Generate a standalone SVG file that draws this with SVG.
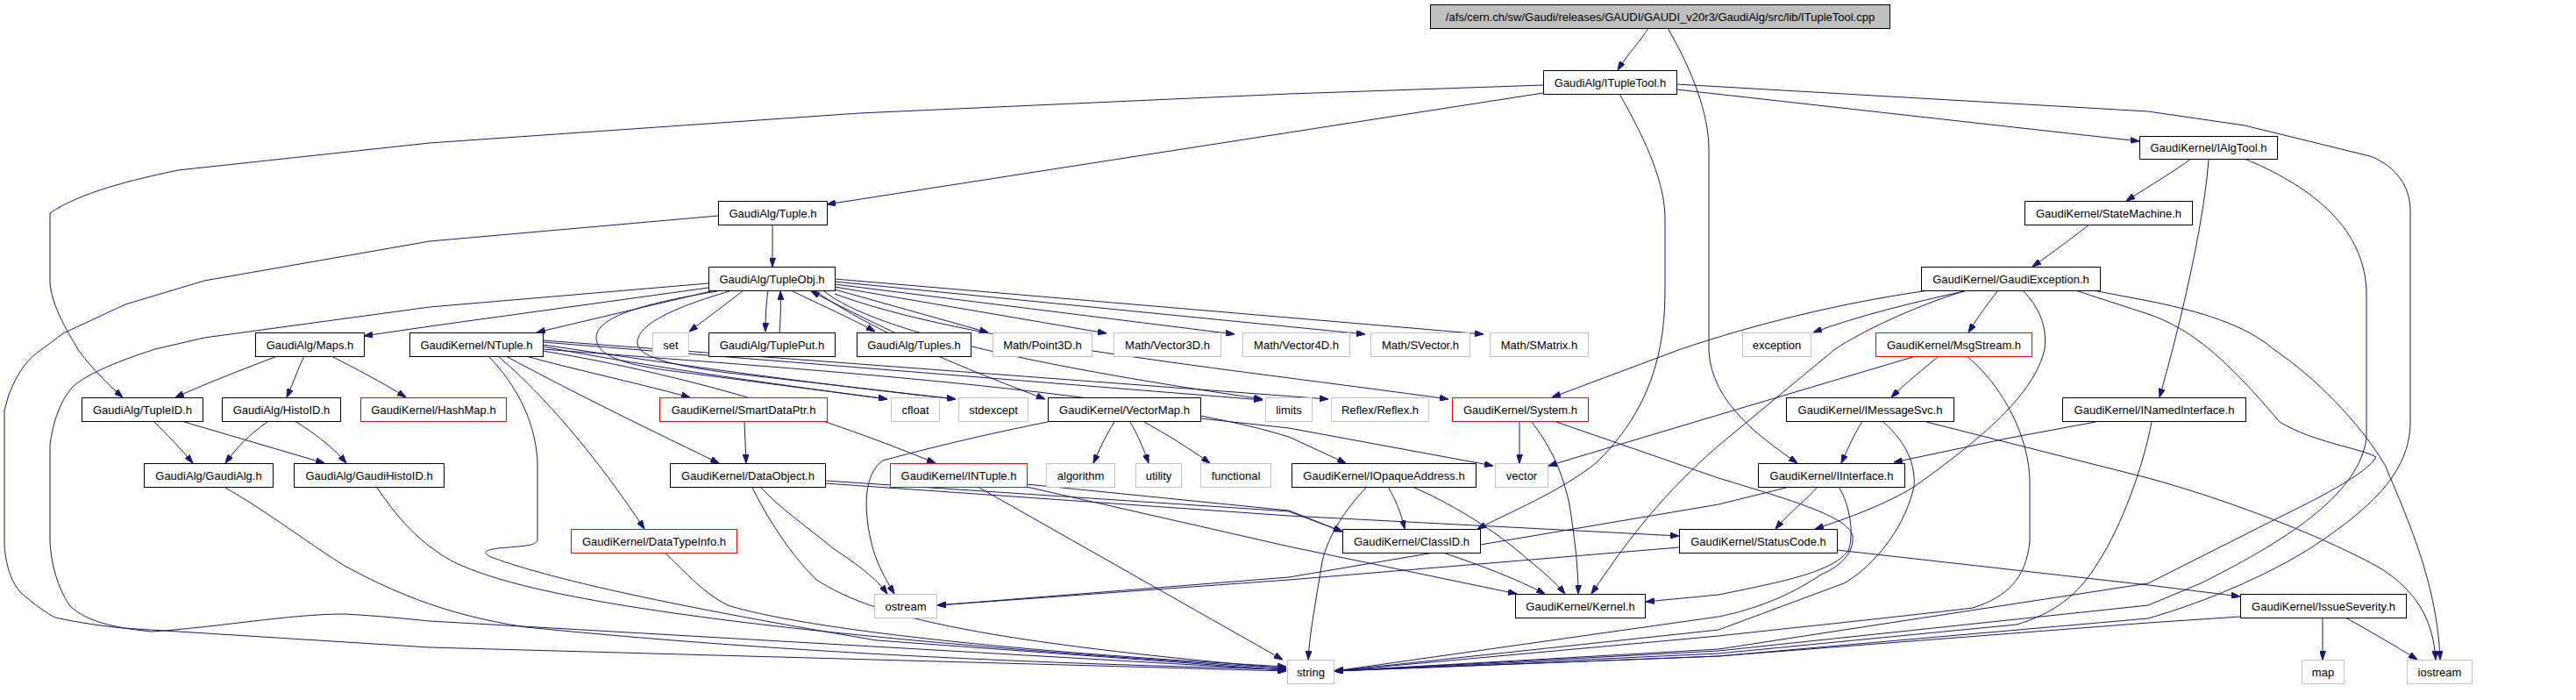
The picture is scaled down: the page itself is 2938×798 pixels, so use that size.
<svg xmlns="http://www.w3.org/2000/svg" width="2938" height="798" viewBox="0 0 2938 798">
<style>
rect{fill:#fff;stroke-width:1}
.b rect{stroke:#000}
.g rect{stroke:#bfbfbf}
.r rect{stroke:#ff0000}
.root rect{fill:#bfbfbf;stroke:#000}
text{font-family:"Liberation Sans",Arial,Helvetica,sans-serif;font-size:13px;text-anchor:middle;fill:#000}
#edges path{fill:none;stroke:#191970;stroke-width:1;marker-end:url(#a)}
</style>
<defs>
<marker id="a" viewBox="0 0 10 7" refX="10" refY="3.5" markerWidth="10" markerHeight="7" markerUnits="userSpaceOnUse" orient="auto">
<path d="M0,0 L10,3.5 L0,7 z" fill="#191970" stroke="#191970"/>
</marker>
</defs>
<rect x="0" y="0" width="2938" height="798" fill="#fff" stroke="none"/>
<g id="edges">
<path d="M1880,32 C1872,46 1856,62 1845,80"/>
<path d="M1902,32 C1930,80 1949,130 1949,170 L1949,400 C1952,460 2010,500 2050,528"/>
<path d="M1760,106 L943,233"/>
<path d="M1760,97 L1470,107 L980,129 L490,163 L203,194 C150,205 90,220 57,243 L57,323 C60,350 75,375 90,400 C105,420 125,440 140,453"/>
<path d="M1847,107 C1880,165 1899,210 1899,250 L1899,333 C1899,420 1870,480 1820,528 C1780,560 1720,585 1685,603"/>
<path d="M1912,102 L2440,161"/>
<path d="M1912,96 L2450,127 L2560,143 L2703,178 C2735,190 2749,215 2749,240 L2749,481 C2749,540 2700,580 2650,615 C2600,650 2520,685 2450,705 L1960,748 L1522,765"/>
<path d="M2499,181 C2480,195 2455,210 2425,229"/>
<path d="M2519,181 C2515,240 2495,340 2463,453"/>
<path d="M2560,181 C2630,210 2695,255 2699,330 L2699,500 C2690,560 2620,610 2510,665 L2450,690 L1960,742 L1522,765"/>
<path d="M2383,256 C2365,270 2345,285 2318,304"/>
<path d="M2245,331 C2180,345 2120,360 2068,379"/>
<path d="M2200,331 C2100,345 2000,370 1917,398 L1770,453"/>
<path d="M2279,331 C2268,345 2258,358 2245,379"/>
<path d="M2243,331 C2180,350 2120,380 2093,398 L1960,508 C1900,560 1860,610 1815,677"/>
<path d="M2307,331 C2325,350 2335,370 2332,398 C2320,450 2260,500 2183,555 C2150,575 2110,590 2070,603"/>
<path d="M2387,331 L2450,343 C2510,355 2560,370 2593,398 C2640,430 2690,480 2720,530 C2750,600 2780,670 2783,752"/>
<path d="M2367,331 L2450,358 C2500,375 2540,410 2600,481 C2640,505 2690,510 2710,521 C2700,540 2640,570 2597,591 L2450,665 L1960,740 L1522,765"/>
<path d="M2211,406 C2195,420 2175,435 2157,453"/>
<path d="M2185,406 L1960,473 L1766,531"/>
<path d="M2243,406 C2285,440 2315,500 2315,550 L2315,618 C2310,660 2290,680 2250,693 C2150,705 2050,715 1960,725 L1522,765"/>
<path d="M2124,480 C2115,495 2108,510 2100,528"/>
<path d="M2148,481 C2175,505 2185,530 2183,555 C2170,610 2130,650 2103,665 L1960,718 L1522,765"/>
<path d="M2197,481 L2450,545 C2560,575 2680,625 2723,653 C2760,680 2775,710 2778,752"/>
<path d="M2390,481 L2288,500 L2160,527"/>
<path d="M2454,481 C2445,530 2420,600 2393,641 C2370,680 2340,700 2300,712 L1960,745 L1522,765"/>
<path d="M2073,555 C2060,570 2040,585 2025,603"/>
<path d="M2097,555 C2110,575 2115,610 2108,628 C2090,650 2050,660 1960,678 L1877,686"/>
<path d="M2037,556 L1960,575 L1470,658 L1069,690"/>
<path d="M1915,624 L1470,661 L1069,690"/>
<path d="M2095,627 L2450,667 L2555,680"/>
<path d="M2649,704 L2649,752"/>
<path d="M2675,704 C2700,718 2730,735 2757,752"/>
<path d="M2555,703 L2450,710 L1960,748 L1522,765"/>
<path d="M1646,630 C1690,645 1730,660 1762,677"/>
<path d="M1583,555 C1592,570 1598,585 1602,603"/>
<path d="M1611,555 C1650,572 1700,600 1743,638 C1760,652 1775,665 1785,677"/>
<path d="M1558,556 C1535,580 1515,610 1508,640 C1500,690 1494,720 1492,752"/>
<path d="M1733,481 L1733,528"/>
<path d="M1747,481 C1765,505 1780,530 1790,575 C1797,620 1800,650 1800,677"/>
<path d="M1775,481 L1960,545 C2060,575 2105,590 2113,610 C2115,630 2100,645 2077,655 C2040,680 2000,695 1960,703 L1522,765"/>
<path d="M1271,481 C1262,495 1255,510 1247,528"/>
<path d="M1289,481 C1297,495 1304,510 1310,528"/>
<path d="M1305,481 C1330,495 1355,510 1380,528"/>
<path d="M1195,481 C1150,490 1080,505 1007,525 C985,540 985,580 993,615 C998,640 1010,660 1020,677"/>
<path d="M1369,477 L1470,488 L1703,531"/>
<path d="M1117,556 L1463,752"/>
<path d="M1171,555 L1470,623 L1730,677"/>
<path d="M1171,552 L1470,582 L1531,606"/>
<path d="M941,548 L1470,583 L1531,606"/>
<path d="M941,551 L1470,588 L1915,611"/>
<path d="M868,556 C890,580 920,600 950,625 C980,645 1000,660 1012,677"/>
<path d="M858,556 C875,590 900,630 930,660 C990,700 1100,730 1467,762"/>
<path d="M849,481 L851,528"/>
<path d="M757,629 C780,650 800,675 830,690 C900,712 1100,740 1467,760"/>
<path d="M257,556 C300,580 360,625 393,645 C440,670 500,700 600,715 C900,745 1200,757 1467,763"/>
<path d="M430,556 C450,585 470,610 500,630 C560,675 800,720 1467,762"/>
<path d="M176,481 C190,495 205,510 220,528"/>
<path d="M210,481 L370,528"/>
<path d="M305,481 C285,495 270,510 257,528"/>
<path d="M338,481 C360,495 380,510 395,528"/>
<path d="M316,406 C280,420 240,435 200,453"/>
<path d="M347,406 C340,420 335,435 327,453"/>
<path d="M378,406 C405,420 435,435 463,453"/>
<path d="M881,256 L881,304"/>
<path d="M819,246 L490,275 L233,320 L143,347 L72,380 L48,398 C30,410 20,425 10,450 L5,468 L5,621 C7,650 15,665 23,675 C40,690 55,700 63,704 C90,710 120,714 140,716 L490,738 L1467,765"/>
<path d="M808,323 L490,350 L233,385 L177,398 C140,410 100,425 83,441 C70,455 60,480 57,508 L57,618 C58,640 65,670 80,691 C95,705 120,715 173,720 C250,715 330,700 393,700 C430,702 460,705 490,708 L1467,764"/>
<path d="M808,328 L490,372 L415,383"/>
<path d="M815,331 L612,379"/>
<path d="M848,331 C830,345 810,360 786,378"/>
<path d="M876,331 C874,345 873,360 873,378"/>
<path d="M889,379 C890,365 891,350 890,332"/>
<path d="M902,331 C930,345 965,360 998,378"/>
<path d="M1020,379 C990,365 960,350 925,332"/>
<path d="M952,330 L1127,379"/>
<path d="M952,327 L1262,380"/>
<path d="M952,324 L1408,381"/>
<path d="M952,321 L1557,381"/>
<path d="M952,318 L1692,381"/>
<path d="M818,332 C740,345 680,360 680,385 C680,405 710,415 760,422 L1012,455"/>
<path d="M832,332 C770,350 725,370 727,392 C730,410 780,418 830,425 L1090,455"/>
<path d="M940,332 C1000,380 1200,420 1440,455"/>
<path d="M930,332 C1000,380 1100,420 1192,455"/>
<path d="M952,335 C1100,390 1400,420 1652,455"/>
<path d="M600,406 C650,420 720,435 787,453"/>
<path d="M577,406 C640,440 720,480 820,528"/>
<path d="M568,406 C620,450 680,520 735,603"/>
<path d="M557,406 C590,440 610,480 613,525 L613,616 C610,622 600,622 580,624 C550,626 550,630 560,635 C600,650 700,680 1000,730 L1467,764"/>
<path d="M619,400 C800,430 950,480 1067,528"/>
<path d="M619,395 C750,420 900,440 1012,455"/>
<path d="M619,393 C800,420 950,440 1090,455"/>
<path d="M619,390 L1440,456"/>
<path d="M619,388 L1515,455"/>
<path d="M619,398 C900,420 1300,445 1470,498 L1535,528"/>
</g>
<g id="root" class="root"><rect x="1631.5" y="5.5" width="524" height="27"/><text x="1893.5" y="23.5">/afs/cern.ch/sw/Gaudi/releases/GAUDI/GAUDI_v20r3/GaudiAlg/src/lib/ITupleTool.cpp</text></g>
<g id="n_itupletool" class="b"><rect x="1760.5" y="80.5" width="152" height="27"/><text x="1836.5" y="98.5">GaudiAlg/ITupleTool.h</text></g>
<g id="n_ialgtool" class="b"><rect x="2440.5" y="155.5" width="157" height="26"/><text x="2519" y="173">GaudiKernel/IAlgTool.h</text></g>
<g id="n_tuple" class="b"><rect x="819.5" y="229.5" width="124" height="27"/><text x="881.5" y="247.5">GaudiAlg/Tuple.h</text></g>
<g id="n_statemachine" class="b"><rect x="2309.5" y="229.5" width="191" height="27"/><text x="2405" y="247.5">GaudiKernel/StateMachine.h</text></g>
<g id="n_tupleobj" class="b"><rect x="808.5" y="304.5" width="144" height="27"/><text x="880.5" y="322.5">GaudiAlg/TupleObj.h</text></g>
<g id="n_gaudiexception" class="b"><rect x="2191.5" y="304.5" width="204" height="27"/><text x="2293.5" y="322.5">GaudiKernel/GaudiException.h</text></g>
<g id="n_maps" class="b"><rect x="291.5" y="379.5" width="124" height="27"/><text x="353.5" y="397.5">GaudiAlg/Maps.h</text></g>
<g id="n_ntuple" class="b"><rect x="467.5" y="379.5" width="152" height="27"/><text x="543.5" y="397.5">GaudiKernel/NTuple.h</text></g>
<g id="n_set" class="g"><rect x="744.5" y="379.5" width="41" height="27"/><text x="765" y="397.5">set</text></g>
<g id="n_tupleput" class="b"><rect x="808.5" y="379.5" width="144" height="27"/><text x="880.5" y="397.5">GaudiAlg/TuplePut.h</text></g>
<g id="n_tuples" class="b"><rect x="977.5" y="379.5" width="130" height="27"/><text x="1042.5" y="397.5">GaudiAlg/Tuples.h</text></g>
<g id="n_point3d" class="g"><rect x="1132.5" y="379.5" width="113" height="27"/><text x="1189" y="397.5">Math/Point3D.h</text></g>
<g id="n_vector3d" class="g"><rect x="1270.5" y="379.5" width="122" height="27"/><text x="1331.5" y="397.5">Math/Vector3D.h</text></g>
<g id="n_vector4d" class="g"><rect x="1417.5" y="379.5" width="122" height="27"/><text x="1478.5" y="397.5">Math/Vector4D.h</text></g>
<g id="n_svector" class="g"><rect x="1563.5" y="379.5" width="113" height="27"/><text x="1620" y="397.5">Math/SVector.h</text></g>
<g id="n_smatrix" class="g"><rect x="1699.5" y="379.5" width="112" height="27"/><text x="1755.5" y="397.5">Math/SMatrix.h</text></g>
<g id="n_exception" class="g"><rect x="1987.5" y="379.5" width="78" height="27"/><text x="2026.5" y="397.5">exception</text></g>
<g id="n_msgstream" class="r"><rect x="2139.5" y="379.5" width="178" height="27"/><text x="2228.5" y="397.5">GaudiKernel/MsgStream.h</text></g>
<g id="n_tupleid" class="b"><rect x="93.5" y="453.5" width="138" height="27"/><text x="162.5" y="471.5">GaudiAlg/TupleID.h</text></g>
<g id="n_histoid" class="b"><rect x="253.5" y="453.5" width="135" height="27"/><text x="321" y="471.5">GaudiAlg/HistoID.h</text></g>
<g id="n_hashmap" class="r"><rect x="411.5" y="453.5" width="166" height="27"/><text x="494.5" y="471.5">GaudiKernel/HashMap.h</text></g>
<g id="n_smartdataptr" class="r"><rect x="752.5" y="453.5" width="191" height="27"/><text x="848" y="471.5">GaudiKernel/SmartDataPtr.h</text></g>
<g id="n_cfloat" class="g"><rect x="1016.5" y="453.5" width="55" height="27"/><text x="1044" y="471.5">cfloat</text></g>
<g id="n_stdexcept" class="g"><rect x="1093.5" y="453.5" width="79" height="27"/><text x="1133" y="471.5">stdexcept</text></g>
<g id="n_vectormap" class="b"><rect x="1195.5" y="453.5" width="174" height="27"/><text x="1282.5" y="471.5">GaudiKernel/VectorMap.h</text></g>
<g id="n_limits" class="g"><rect x="1443.5" y="453.5" width="53" height="27"/><text x="1470" y="471.5">limits</text></g>
<g id="n_reflex" class="g"><rect x="1518.5" y="453.5" width="111" height="27"/><text x="1574" y="471.5">Reflex/Reflex.h</text></g>
<g id="n_system" class="r"><rect x="1656.5" y="453.5" width="155" height="27"/><text x="1734" y="471.5">GaudiKernel/System.h</text></g>
<g id="n_imessagesvc" class="b"><rect x="2037.5" y="453.5" width="191" height="27"/><text x="2133" y="471.5">GaudiKernel/IMessageSvc.h</text></g>
<g id="n_inamedinterface" class="b"><rect x="2352.5" y="453.5" width="209" height="27"/><text x="2457" y="471.5">GaudiKernel/INamedInterface.h</text></g>
<g id="n_gaudialg" class="b"><rect x="164.5" y="528.5" width="147" height="27"/><text x="238" y="546.5">GaudiAlg/GaudiAlg.h</text></g>
<g id="n_gaudihistoid" class="b"><rect x="335.5" y="528.5" width="171" height="27"/><text x="421" y="546.5">GaudiAlg/GaudiHistoID.h</text></g>
<g id="n_dataobject" class="b"><rect x="764.5" y="528.5" width="177" height="27"/><text x="853" y="546.5">GaudiKernel/DataObject.h</text></g>
<g id="n_intuple" class="r"><rect x="1015.5" y="528.5" width="156" height="27"/><text x="1093.5" y="546.5">GaudiKernel/INTuple.h</text></g>
<g id="n_algorithm" class="g"><rect x="1193.5" y="528.5" width="78" height="27"/><text x="1232.5" y="546.5">algorithm</text></g>
<g id="n_utility" class="g"><rect x="1295.5" y="528.5" width="52" height="27"/><text x="1321.5" y="546.5">utility</text></g>
<g id="n_functional" class="g"><rect x="1369.5" y="528.5" width="80" height="27"/><text x="1409.5" y="546.5">functional</text></g>
<g id="n_iopaqueaddress" class="b"><rect x="1473.5" y="528.5" width="210" height="27"/><text x="1578.5" y="546.5">GaudiKernel/IOpaqueAddress.h</text></g>
<g id="n_vector" class="g"><rect x="1705.5" y="528.5" width="60" height="27"/><text x="1735.5" y="546.5">vector</text></g>
<g id="n_iinterface" class="b"><rect x="2005.5" y="528.5" width="167" height="27"/><text x="2089" y="546.5">GaudiKernel/IInterface.h</text></g>
<g id="n_datatypeinfo" class="r"><rect x="651.5" y="603.5" width="189" height="27"/><text x="746" y="621.5">GaudiKernel/DataTypeInfo.h</text></g>
<g id="n_classid" class="b"><rect x="1531.5" y="603.5" width="157" height="27"/><text x="1610" y="621.5">GaudiKernel/ClassID.h</text></g>
<g id="n_statuscode" class="b"><rect x="1915.5" y="603.5" width="180" height="27"/><text x="2005.5" y="621.5">GaudiKernel/StatusCode.h</text></g>
<g id="n_ostream" class="g"><rect x="997.5" y="677.5" width="71" height="27"/><text x="1033" y="695.5">ostream</text></g>
<g id="n_kernel" class="b"><rect x="1728.5" y="677.5" width="148" height="27"/><text x="1802.5" y="695.5">GaudiKernel/Kernel.h</text></g>
<g id="n_issueseverity" class="b"><rect x="2555.5" y="677.5" width="189" height="27"/><text x="2650" y="695.5">GaudiKernel/IssueSeverity.h</text></g>
<g id="n_string" class="g"><rect x="1468.5" y="752.5" width="53" height="27"/><text x="1495" y="770.5">string</text></g>
<g id="n_map" class="g"><rect x="2625.5" y="752.5" width="48" height="27"/><text x="2649.5" y="770.5">map</text></g>
<g id="n_iostream" class="g"><rect x="2745.5" y="752.5" width="74" height="27"/><text x="2782.5" y="770.5">iostream</text></g>
</svg>
